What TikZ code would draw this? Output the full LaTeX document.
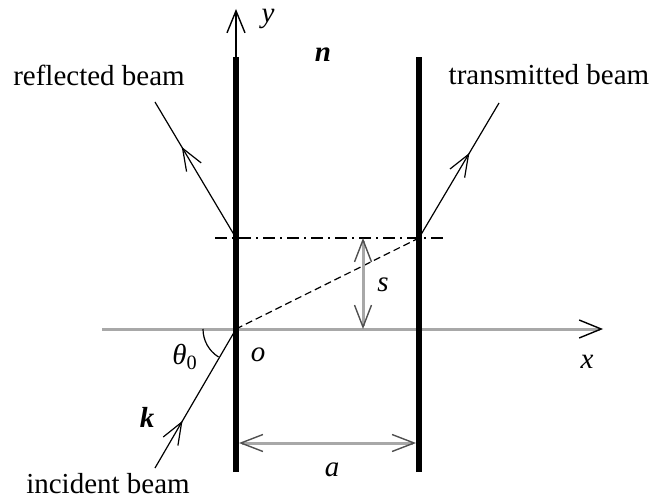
\documentclass[tikz,border=0pt]{standalone}
\usepackage{fontspec}
\setmainfont{Liberation Serif}
\usetikzlibrary{arrows.meta,decorations.markings}
\definecolor{axisgray}{HTML}{A8A8A8}
\definecolor{tipgray}{HTML}{505050}
\tikzset{
  plate/.style={draw=black, line width=3pt},
  ray/.style={draw=black, line width=0.6pt},
  axisln/.style={draw=axisgray, line width=1.5pt},
  barb/.style={-{Straight Barb[length=11pt,width=9pt,line width=0.7pt,color=black]}},
  dbarb/.style={{Straight Barb[length=11pt,width=8.5pt,line width=0.7pt,color=tipgray]}-{Straight Barb[length=11pt,width=8.5pt,line width=0.7pt,color=tipgray]}},
  midarr/.style={postaction={decorate}, decoration={markings,
    mark=at position #1 with {\arrow{Straight Barb[length=11pt,width=8.5pt,line width=0.6pt]}}}},
  lbl/.style={inner sep=0pt, font=\fontsize{14.5}{17}\selectfont},
}
\begin{document}
\begin{tikzpicture}[x=0.5pt, y=0.5pt]
  \useasboundingbox (0,0) rectangle (654,499);
  % points of the slab
  \coordinate (o) at (236,170);
  \coordinate (lb) at (236,27);  \coordinate (lt) at (236,442);
  \coordinate (rb) at (419,27);  \coordinate (rt) at (419,442);
  \coordinate (ytip) at (236,490);
  \coordinate (xs) at (102,170); \coordinate (xe) at (603,170);
  \coordinate (rp) at (236,261); \coordinate (tp) at (419,261);
  \coordinate (dl) at (215,261); \coordinate (dr) at (444,261);
  \coordinate (su) at (363,261); \coordinate (sd) at (363,170);
  \coordinate (al) at (239,56);  \coordinate (ar) at (416,56);
  \coordinate (inc) at (155,31);
  \coordinate (ref) at (155,397);
  \coordinate (tra) at (499,396);
  % axes
  \draw[axisln, -{Straight Barb[length=11pt,width=9pt,line width=0.7pt,color=black]}] (xs) -- (xe);
  \draw[ray, barb] (lt) -- (ytip);
  % plates
  \draw[plate] (lb) -- (lt);
  \draw[plate] (rb) -- (rt);
  % shift lines
  \draw[ray, dash pattern=on 6pt off 2.5pt on 1pt off 2.5pt] (dl) -- (dr);
  \draw[ray, dash pattern=on 3.5pt off 2pt] (o) -- (tp);
  \draw[axisln, dbarb] (su) -- (sd);
  \draw[axisln, dbarb] (al) -- (ar);
  % beams
  \draw[ray, midarr=0.34] (inc) -- (o);
  \draw[ray, midarr=0.67] (rp) -- (ref);
  \draw[ray, midarr=0.63] (tp) -- (tra);
  \draw[ray] (o) ++(180:33) arc[start angle=180, end angle=238, radius=33];
  % labels
  \node[lbl] (ylab) at (268,480) {\textit{y}};
  \node[lbl] (nlab) at (323,444) {\textbf{\textit{n}}};
  \node[lbl] (xlab) at (587,137) {\textit{x}};
  \node[lbl] (olab) at (258,144) {\textit{o}};
  \node[lbl] (slab) at (383,214) {\textit{s}};
  \node[lbl] (alab) at (332,29) {\textit{a}};
  \node[lbl] (klab) at (147,82) {\textbf{\textit{k}}};
  \node[lbl] (tlab) at (185,142) {\textit{θ}\textsubscript{0}};
  \node[lbl] (rlab) at (99,424) {reflected beam};
  \node[lbl] (tblab) at (549,424) {transmitted beam};
  \node[lbl] (ilab) at (108,15) {incident beam};
\end{tikzpicture}
\end{document}
